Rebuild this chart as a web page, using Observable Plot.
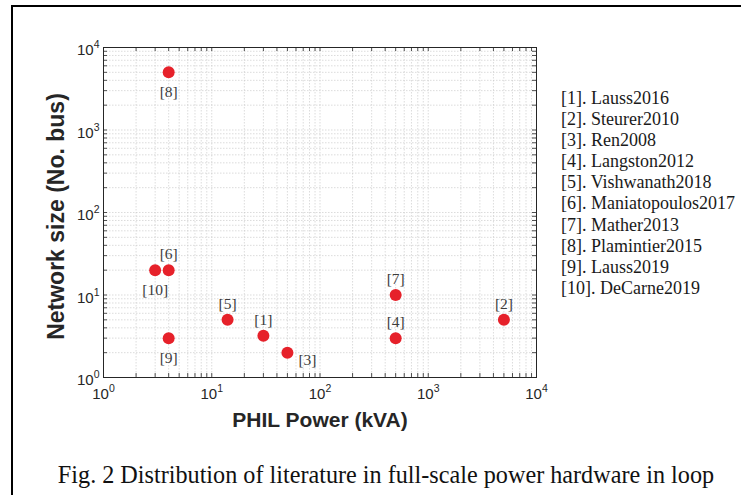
<!DOCTYPE html>
<html>
<head>
<meta charset="utf-8">
<script src="https://cdn.jsdelivr.net/npm/d3@7"></script>
<script src="https://cdn.jsdelivr.net/npm/@observablehq/plot@0.6"></script>
<style>
html,body{margin:0;padding:0;background:#fff;overflow:hidden;width:741px;height:495px;}
#wrap{position:relative;width:741px;height:495px;overflow:hidden;}
#chart{position:absolute;left:0;top:0;}
#border{position:absolute;left:11px;top:5px;width:740px;height:500px;border-left:2px solid #000;border-top:2px solid #000;z-index:5;pointer-events:none;}
#legend{position:absolute;left:561px;top:88px;font-family:"Liberation Serif",serif;font-size:18px;line-height:21.1px;color:#1a1a1a;white-space:nowrap;}
#caption{position:absolute;left:0;width:772px;top:461px;text-align:center;font-family:"Liberation Serif",serif;font-size:24.2px;line-height:28px;color:#111;white-space:nowrap;}
</style>
</head>
<body>
<div id="wrap">
  <div id="chart"></div>
  <div id="legend"></div>
  <div id="caption"></div>
  <div id="border"></div>
</div>
<script>
// ---- data ----
const refIds   = [1, 2, 3, 4, 5, 6, 7, 8, 9, 10];
const refNames = ["Lauss2016", "Steurer2010", "Ren2008", "Langston2012", "Vishwanath2018",
                  "Maniatopoulos2017", "Mather2013", "Plamintier2015", "Lauss2019", "DeCarne2019"];
const philPower   = [30, 5000, 50, 500, 14, 4, 500, 4, 4, 3];      // kVA
const networkSize = [3.2, 5, 2, 3, 5, 20, 10, 5000, 3, 20];       // No. bus
const labelSide   = ["above", "above", "right", "above", "above", "above", "above", "below", "below", "below"];

const xTicks = [1, 10, 100, 1000, 10000];
const yTicks = [1, 10, 100, 1000, 10000];
const xLabel = "PHIL Power (kVA)";
const yLabel = "Network size (No. bus)";
const captionText = "Fig. 2 Distribution of literature in full-scale power hardware in loop";

// ---- derived ----
const points = refIds.map((id, i) => ({
  id, name: refNames[i], x: philPower[i], y: networkSize[i], side: labelSide[i], label: `[${id}]`
}));
const minorOf = ticks => ticks.slice(0, -1).flatMap(d => [2,3,4,5,6,7,8,9].map(m => m * d));
const xMinor = minorOf(xTicks);
const yMinor = minorOf(yTicks);
const xAll = xTicks.concat(xMinor);
const yAll = yTicks.concat(yMinor);

const W = 741, H = 440;
const mTop = 47, mBottom = 63, mLeft = 103, mRight = 205;
const innerW = W - mLeft - mRight, innerH = H - mTop - mBottom;
const ink = "#262626";
const redFill = "#e6212a";
const labelColor = "#3c3c3c";
const tickLen = 4;
const gridStyle = {stroke: "#c4c4c4", strokeOpacity: 0.75, strokeWidth: 0.8, strokeDasharray: "1.5,1.5"};

const supFmt = d => "10^" + Math.round(Math.log10(d));
const serif = "'Liberation Serif', serif";

const plot = Plot.plot({
  width: W,
  height: H,
  marginTop: mTop,
  marginBottom: mBottom,
  marginLeft: mLeft,
  marginRight: mRight,
  style: {fontFamily: "'Liberation Sans', Arial, sans-serif", fontSize: "15px", color: ink, background: "transparent"},
  x: {type: "log", domain: [xTicks[0], xTicks[xTicks.length - 1]]},
  y: {type: "log", domain: [yTicks[0], yTicks[yTicks.length - 1]]},
  marks: [
    Plot.gridX(xAll, gridStyle),
    Plot.gridY(yAll, gridStyle),
    // inward ticks on all four sides
    Plot.tickX(xAll, {x: d => d, stroke: ink, strokeWidth: 0.8, insetTop: innerH - tickLen}),
    Plot.tickX(xAll, {x: d => d, stroke: ink, strokeWidth: 0.8, insetBottom: innerH - tickLen}),
    Plot.tickY(yAll, {y: d => d, stroke: ink, strokeWidth: 0.8, insetRight: innerW - tickLen}),
    Plot.tickY(yAll, {y: d => d, stroke: ink, strokeWidth: 0.8, insetLeft: innerW - tickLen}),
    Plot.frame({stroke: ink, strokeWidth: 1}),
    Plot.axisX({ticks: xTicks, tickSize: 0, tickPadding: 11, tickFormat: supFmt, label: null, fill: ink}),
    Plot.axisY({ticks: yTicks, tickSize: 0, tickPadding: 4, tickFormat: supFmt, label: null, fill: ink, dy: 3}),
    Plot.text([xLabel], {frameAnchor: "bottom", textAnchor: "middle", lineAnchor: "middle", dy: 42.5,
      fontWeight: "bold", fontSize: 21, fill: ink}),
    Plot.text([yLabel], {frameAnchor: "left", textAnchor: "middle", lineAnchor: "middle", rotate: -90, dx: -46.5, dy: 4,
      fontWeight: "bold", fontSize: 23, fill: ink}),
    Plot.dot(points, {x: "x", y: "y", r: 6, fill: redFill, stroke: "none"}),
    Plot.text(points.filter(p => p.side === "above"), {x: "x", y: "y", text: "label", dy: -16,
      fontFamily: serif, fontSize: 15.5, fill: labelColor}),
    Plot.text(points.filter(p => p.side === "below"), {x: "x", y: "y", text: "label", dy: 20,
      fontFamily: serif, fontSize: 15.5, fill: labelColor}),
    Plot.text(points.filter(p => p.side === "right"), {x: "x", y: "y", text: "label", dx: 11, dy: 7, textAnchor: "start",
      fontFamily: serif, fontSize: 15.5, fill: labelColor})
  ]
});

// superscript exponents in tick labels
plot.querySelectorAll('g[aria-label="x-axis tick label"] text, g[aria-label="y-axis tick label"] text').forEach(el => {
  const m = /^10\^(\d+)$/.exec(el.textContent);
  if (!m) return;
  el.textContent = "10";
  const ts = document.createElementNS("http://www.w3.org/2000/svg", "tspan");
  ts.setAttribute("dy", "-7");
  ts.setAttribute("font-size", "10.5");
  ts.textContent = m[1];
  el.appendChild(ts);
});

document.getElementById("chart").appendChild(plot);

// legend
const legend = document.getElementById("legend");
points.forEach(p => {
  const div = document.createElement("div");
  div.textContent = `[${p.id}]. ${p.name}`;
  legend.appendChild(div);
});
document.getElementById("caption").textContent = captionText;
</script>
</body>
</html>
